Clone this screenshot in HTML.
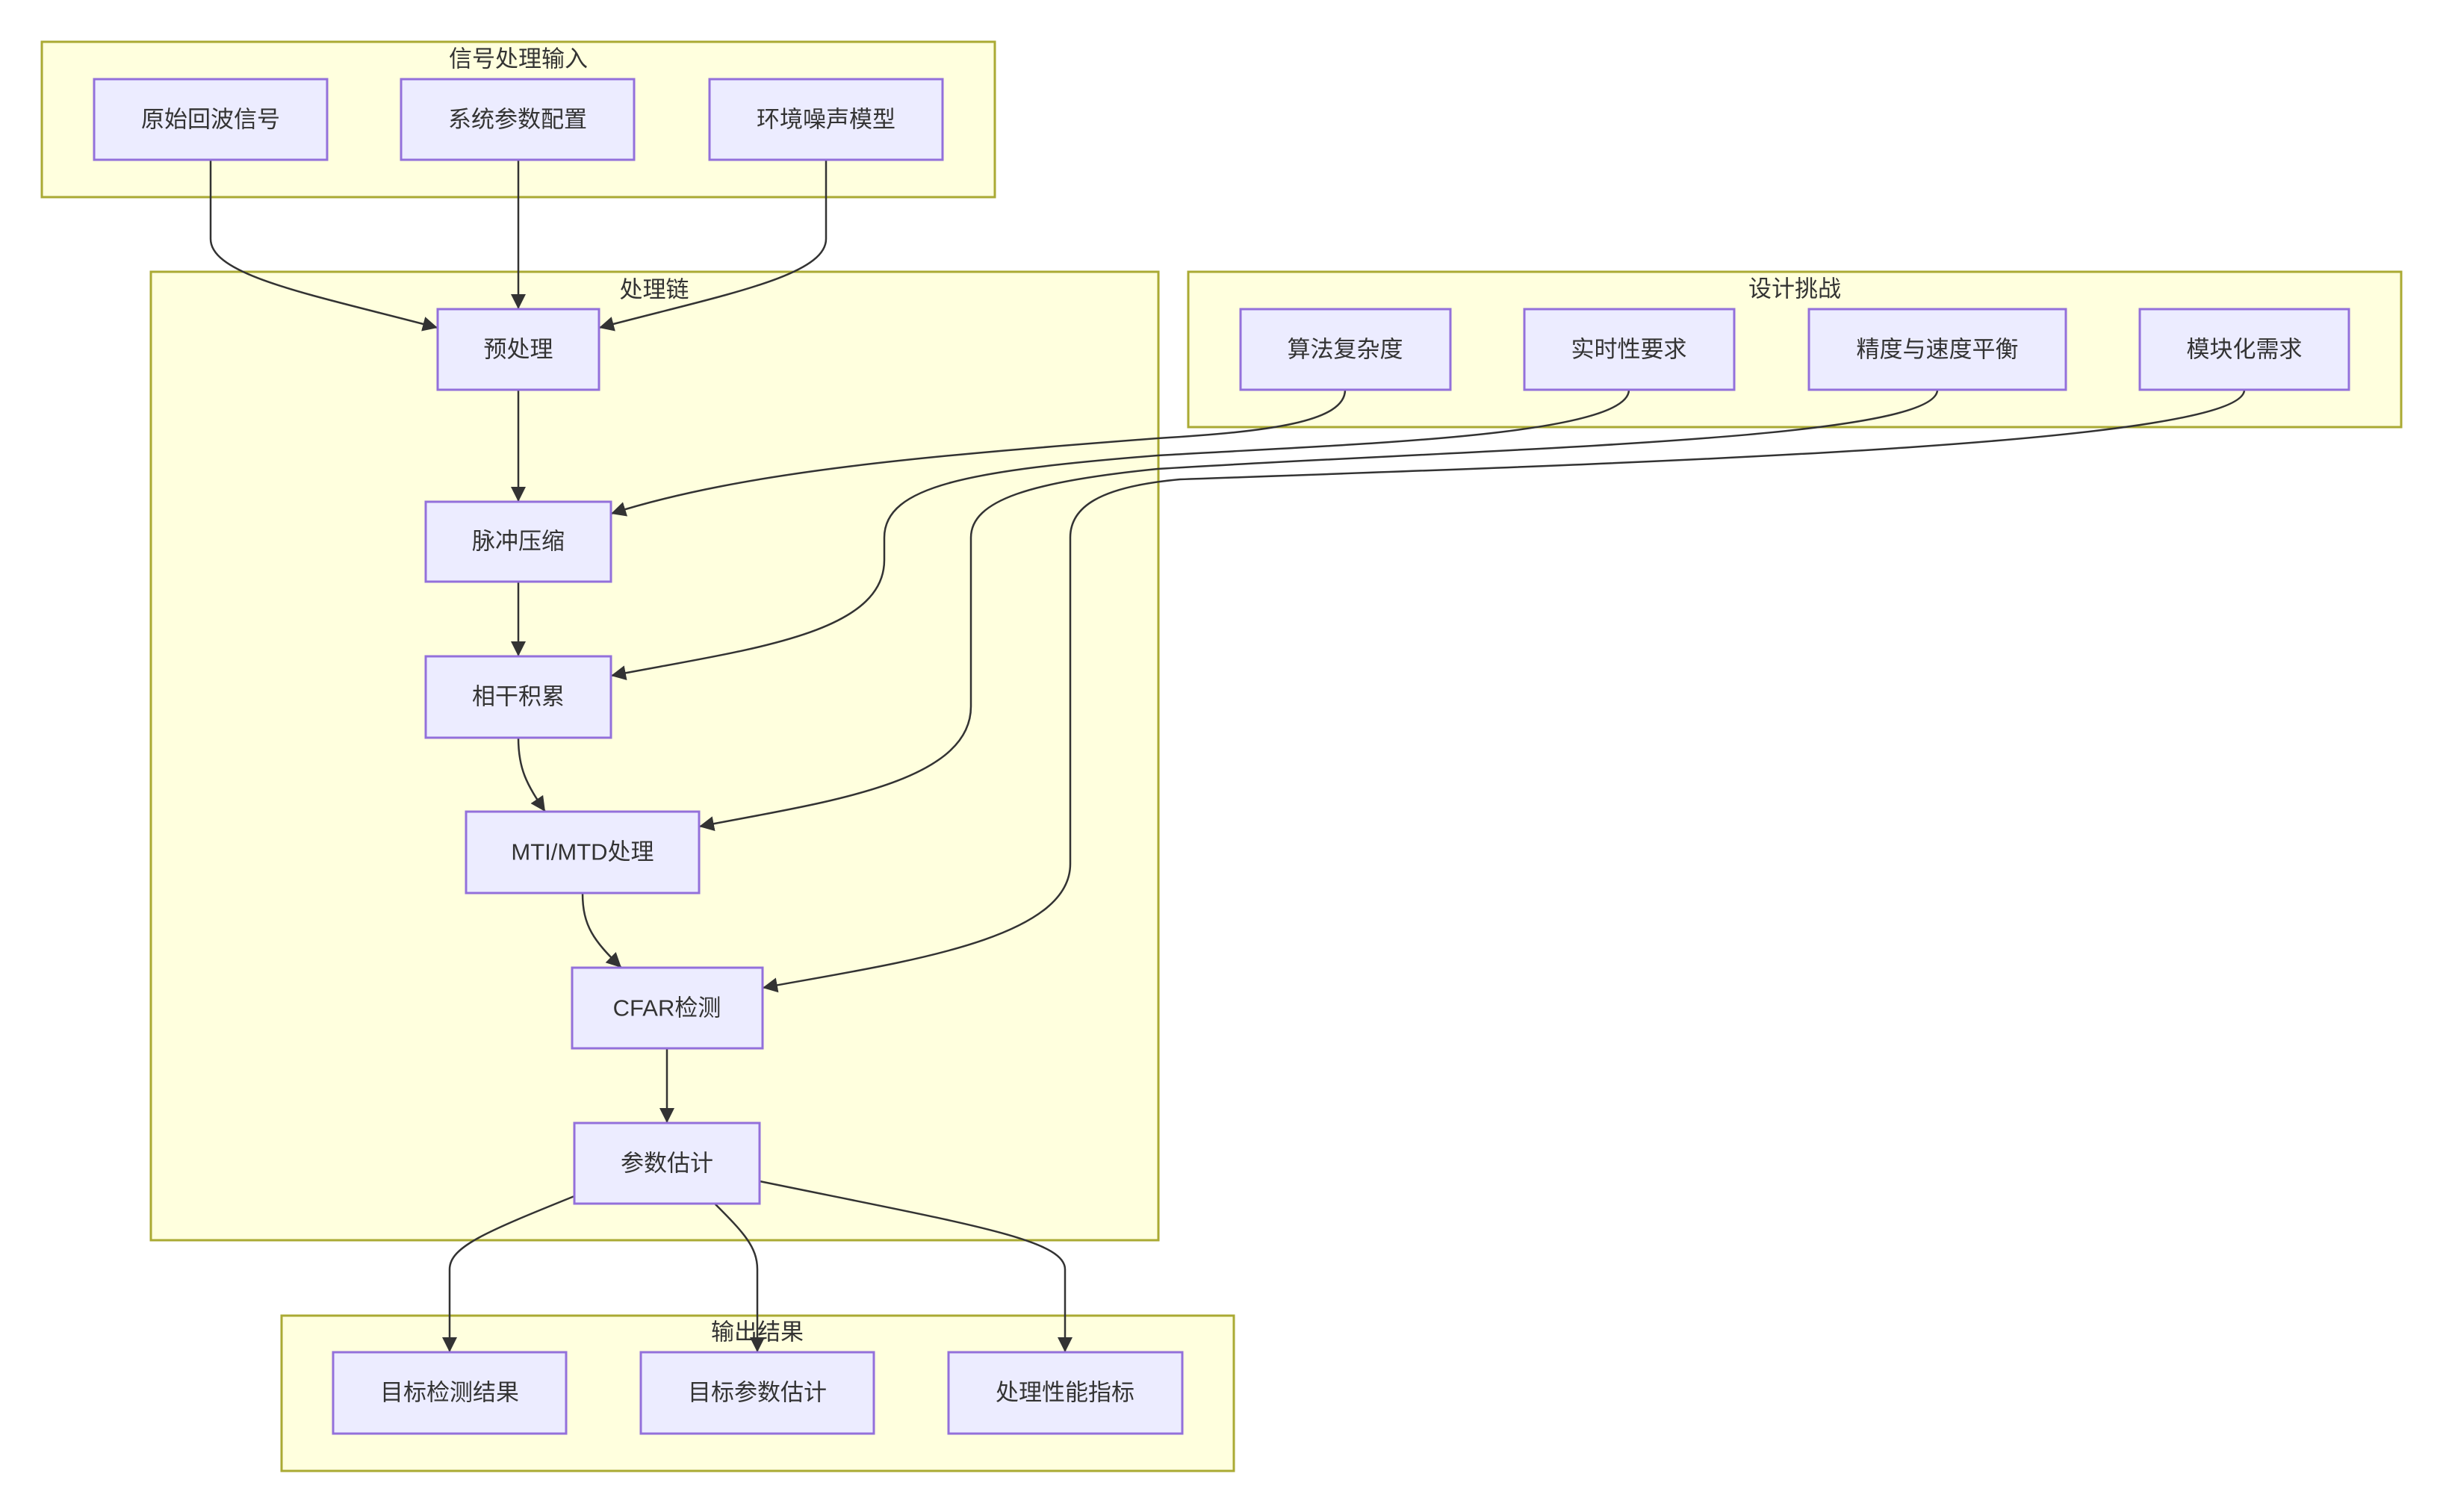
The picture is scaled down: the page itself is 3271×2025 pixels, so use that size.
<!DOCTYPE html>
<html><head><meta charset="utf-8"><style>
html,body{margin:0;padding:0;background:#fff;}
svg{display:block;}
text{font-family:"Liberation Sans","Noto Sans CJK SC",sans-serif;fill:#333;}
.g{fill:#FFFFDE;stroke:#AAAA33;stroke-width:3;}
.n{fill:#ECECFF;stroke:#9370DB;stroke-width:3;}
.e{fill:none;stroke:#333;stroke-width:2.5;}
.t{font-size:31px;text-anchor:middle;dominant-baseline:central;}
</style></head><body>
<svg width="3271" height="2025" viewBox="0 0 3271 2025" xmlns="http://www.w3.org/2000/svg">
<defs>
<marker id="b" viewBox="0 0 10 10" refX="10" refY="5" markerWidth="20" markerHeight="20" markerUnits="userSpaceOnUse" orient="auto"><path d="M0,0L10,5L0,10z" fill="#333"/></marker></defs>

<rect class="g" x="56" y="56" width="1276" height="208"/>
<text class="t" x="694" y="79">信号处理输入</text>
<rect class="g" x="202" y="364" width="1349" height="1297"/>
<text class="t" x="876" y="388">处理链</text>
<rect class="g" x="1591" y="364" width="1624" height="208"/>
<text class="t" x="2403" y="387">设计挑战</text>
<rect class="g" x="377" y="1762" width="1275" height="208"/>
<text class="t" x="1014" y="1784">输出结果</text>

<g marker-end="url(#b)" class="e">
<path d="M282,214 L282,320 C282,370 420,395 586,439"/>
<path d="M694,214 L694,414"/>
<path d="M1106,214 L1106,320 C1106,370 968,395 802,439"/>
<path d="M694,522 L694,672"/>
<path d="M694,779 L694,879"/>
<path d="M694,988 C694,1030 705,1050 730,1087"/>
<path d="M780,1196 C780,1240 795,1260 832,1296"/>
<path d="M893,1404 L893,1504"/>
<path d="M1801,522 C1801,565 1700,578 1550,587 C1250,610 1000,630 818,688"/>
<path d="M2181,522 C2181,585 1800,595 1550,610 C1300,630 1184,650 1184,720 L1184,750 C1184,850 1000,870 818,905"/>
<path d="M2594,522 C2594,590 2000,600 1550,628 C1380,645 1300,670 1300,720 L1300,946 C1300,1050 1100,1075 936,1107"/>
<path d="M3005,522 C3005,595 2200,620 1580,642 C1470,652 1433,680 1433,720 L1433,1157 C1433,1260 1200,1290 1021,1323"/>
<path d="M769,1602 C650,1650 602,1670 602,1700 L602,1811"/>
<path d="M957,1612 C995,1650 1014,1670 1014,1700 L1014,1811"/>
<path d="M1017,1582 C1300,1640 1426,1660 1426,1700 L1426,1811"/>
</g>

<rect class="n" x="126" y="106" width="312" height="108"/><text class="t" x="282" y="160">原始回波信号</text>
<rect class="n" x="537" y="106" width="312" height="108"/><text class="t" x="693" y="160">系统参数配置</text>
<rect class="n" x="950" y="106" width="312" height="108"/><text class="t" x="1106" y="160">环境噪声模型</text>

<rect class="n" x="586" y="414" width="216" height="108"/><text class="t" x="694" y="468">预处理</text>
<rect class="n" x="570" y="672" width="248" height="107"/><text class="t" x="694" y="725">脉冲压缩</text>
<rect class="n" x="570" y="879" width="248" height="109"/><text class="t" x="694" y="933">相干积累</text>
<rect class="n" x="624" y="1087" width="312" height="109"/><text class="t" x="780" y="1141">MTI/MTD处理</text>
<rect class="n" x="766" y="1296" width="255" height="108"/><text class="t" x="893" y="1350">CFAR检测</text>
<rect class="n" x="769" y="1504" width="248" height="108"/><text class="t" x="893" y="1558">参数估计</text>

<rect class="n" x="1661" y="414" width="281" height="108"/><text class="t" x="1801" y="468">算法复杂度</text>
<rect class="n" x="2041" y="414" width="281" height="108"/><text class="t" x="2181" y="468">实时性要求</text>
<rect class="n" x="2422" y="414" width="344" height="108"/><text class="t" x="2594" y="468">精度与速度平衡</text>
<rect class="n" x="2865" y="414" width="280" height="108"/><text class="t" x="3005" y="468">模块化需求</text>

<rect class="n" x="446" y="1811" width="312" height="109"/><text class="t" x="602" y="1865">目标检测结果</text>
<rect class="n" x="858" y="1811" width="312" height="109"/><text class="t" x="1014" y="1865">目标参数估计</text>
<rect class="n" x="1270" y="1811" width="313" height="109"/><text class="t" x="1426" y="1865">处理性能指标</text>
</svg>
</body></html>
